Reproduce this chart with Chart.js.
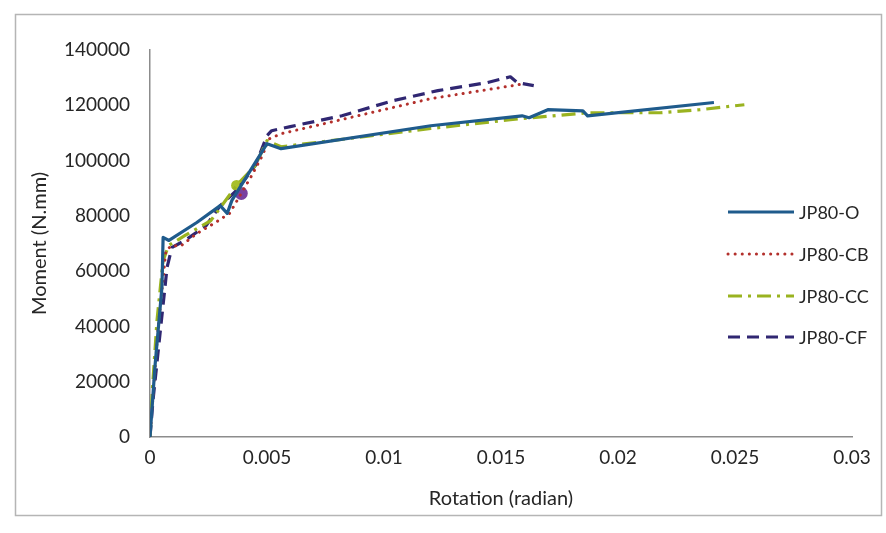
<!DOCTYPE html>
<html>
<head>
<meta charset="utf-8">
<script src="https://cdn.jsdelivr.net/npm/chart.js@4.4.1/dist/chart.umd.min.js"></script>
<style>
  html, body { margin: 0; padding: 0; background: #ffffff; }
  #wrap { width: 886px; height: 533px; }
</style>
</head>
<body>
<div id="wrap"><canvas id="c" width="886" height="533"></canvas></div>
<script>
// Moment-rotation curves for the four JP80 joint specimens
const seriesNames = ['JP80-O', 'JP80-CB', 'JP80-CC', 'JP80-CF'];

const rotO = [0, 0.00021, 0.00051, 0.00056, 0.00081, 0.0020, 0.0030, 0.0033, 0.0035, 0.0050, 0.0056, 0.0120, 0.0159, 0.0162, 0.0170, 0.0185, 0.0187, 0.0241];
const momO = [0, 25300, 54200, 72200, 71100, 77600, 83700, 80900, 85600, 106100, 104300, 112600, 116200, 115500, 118400, 118000, 116200, 121000];

const rotCB = [0, 0.00034, 0.00068, 0.00094, 0.0013, 0.0020, 0.0028, 0.0034, 0.0043, 0.0048, 0.0051, 0.0056, 0.0120, 0.0160];
const momCB = [0, 38600, 67500, 69300, 69000, 73600, 77600, 80900, 93900, 101800, 107900, 109700, 122400, 127800];

const rotCC = [0, 0.0001, 0.0003, 0.00056, 0.0008, 0.0015, 0.0026, 0.0037, 0.0045, 0.0049, 0.0050, 0.0056, 0.0120, 0.0154, 0.0187, 0.0218, 0.0235, 0.0254];
const momCC = [0, 17000, 42200, 63900, 69300, 72900, 78300, 91000, 98200, 105400, 107200, 105000, 111600, 114800, 117300, 117300, 118400, 120200];

const rotCF = [0, 0.00013, 0.00043, 0.00073, 0.00094, 0.0015, 0.0024, 0.0030, 0.0037, 0.0045, 0.0050, 0.0052, 0.0060, 0.0082, 0.0104, 0.0123, 0.0144, 0.0154, 0.0157, 0.0164];
const momCF = [0, 13400, 37500, 61400, 68600, 71100, 76500, 83700, 89200, 98200, 109000, 110800, 112300, 116200, 121700, 125300, 128200, 130300, 128200, 127100];

// Single highlighted points on the CC and CF curves
const markCC = [0.0037, 91000];
const markCF = [0.0039, 88100];

const xTickLabels = ['0', '0.005', '0.01', '0.015', '0.02', '0.025', '0.03'];
const yTickLabels = ['0', '20000', '40000', '60000', '80000', '100000', '120000', '140000'];

const pts = (xs, ys) => xs.map((x, i) => ({ x: x, y: ys[i] }));

const FONT = 'Lato, "Open Sans", sans-serif';
const TEXT = '#262626';

const lineStyles = [
  { color: '#1f5b8c', width: 3.2, dash: [], cap: 'butt' },
  { color: '#b3302c', width: 3, dash: [0.1, 7], cap: 'round' },
  { color: '#9ab320', width: 3.2, dash: [14, 6, 3, 6], cap: 'butt' },
  { color: '#302772', width: 3.2, dash: [12, 7], cap: 'butt' }
];

const seriesData = [pts(rotO, momO), pts(rotCB, momCB), pts(rotCC, momCC), pts(rotCF, momCF)];

const datasets = seriesData.map((d, i) => ({
  label: seriesNames[i],
  data: d,
  showLine: true,
  borderColor: lineStyles[i].color,
  backgroundColor: lineStyles[i].color,
  borderWidth: lineStyles[i].width,
  borderDash: lineStyles[i].dash,
  borderCapStyle: lineStyles[i].cap,
  borderJoinStyle: 'round',
  pointRadius: 0,
  tension: 0,
  fill: false
}));

datasets.push({
  label: 'cc-mark', data: [{ x: markCC[0], y: markCC[1] }], showLine: false,
  pointRadius: 5.5, backgroundColor: '#a8bf2a', borderColor: '#a8bf2a', borderWidth: 0
});
datasets.push({
  label: 'cf-mark', data: [{ x: markCF[0], y: markCF[1] }], showLine: false,
  pointRadius: 6.5, backgroundColor: '#7a3fa0', borderColor: '#7a3fa0', borderWidth: 0
});

// Outer chart frame and white background
const framePlugin = {
  id: 'frame',
  beforeDraw(chart) {
    const ctx = chart.ctx;
    ctx.save();
    ctx.fillStyle = '#ffffff';
    ctx.fillRect(0, 0, chart.width, chart.height);
    ctx.strokeStyle = '#b5b5b5';
    ctx.lineWidth = 1.5;
    ctx.strokeRect(15.5, 14.5, 866, 501);
    ctx.restore();
  }
};

// Legend drawn inside the plot area on the right
const legendPlugin = {
  id: 'insideLegend',
  afterDraw(chart) {
    const ctx = chart.ctx;
    const x0 = 728, x1 = 794, tx = 799;
    const ys = [212, 254, 296, 337];
    ctx.save();
    ctx.fillStyle = '#ffffff';
    ctx.fillRect(712, 190, 160, 170);
    seriesNames.forEach((name, i) => {
      const s = lineStyles[i];
      ctx.beginPath();
      ctx.strokeStyle = s.color;
      ctx.lineWidth = s.width;
      ctx.setLineDash(s.dash);
      ctx.lineCap = s.cap;
      ctx.moveTo(x0, ys[i]);
      ctx.lineTo(x1, ys[i]);
      ctx.stroke();
      ctx.setLineDash([]);
      ctx.fillStyle = TEXT;
      ctx.font = '18px ' + FONT;
      ctx.textBaseline = 'middle';
      ctx.textAlign = 'left';
      ctx.fillText(name, tx, ys[i] + 1);
    });
    ctx.restore();
  }
};

new Chart(document.getElementById('c'), {
  type: 'scatter',
  data: { datasets: datasets },
  plugins: [framePlugin, legendPlugin],
  options: {
    responsive: false,
    animation: false,
    layout: { padding: { left: 0, top: 50, right: 34, bottom: 0 } },
    plugins: { legend: { display: false }, tooltip: { enabled: false } },
    scales: {
      x: {
        type: 'linear', min: 0, max: 0.03,
        afterFit(scale) { scale.height = 96; },
        grid: { display: false, drawTicks: false },
        border: { display: true, color: '#8c8c8c', width: 1.5 },
        ticks: {
          stepSize: 0.005, padding: 9, color: TEXT,
          font: { family: FONT, size: 19 },
          callback: (v, i) => xTickLabels[i]
        },
        title: {
          display: true, text: 'Rotation (radian)', color: TEXT,
          font: { family: FONT, size: 20 }, padding: { top: 0, bottom: 22 }
        }
      },
      y: {
        type: 'linear', min: 0, max: 140000,
        afterFit(scale) { scale.width = 150; },
        grid: { display: false, drawTicks: false },
        border: { display: true, color: '#8c8c8c', width: 1.5 },
        ticks: {
          stepSize: 20000, padding: 20, color: TEXT,
          font: { family: FONT, size: 19 },
          callback: (v, i) => yTickLabels[i]
        },
        title: {
          display: true, text: 'Moment (N.mm)', color: TEXT,
          font: { family: FONT, size: 20 }, padding: { top: 28, bottom: 0 }
        }
      }
    }
  }
});
</script>
</body>
</html>
